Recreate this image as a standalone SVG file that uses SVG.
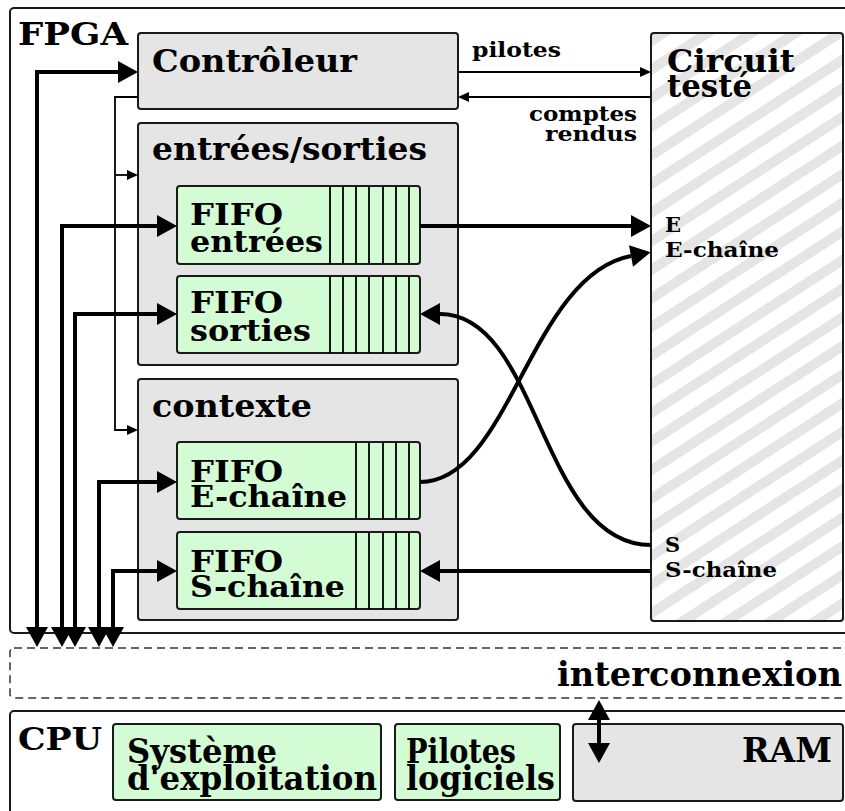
<svg xmlns="http://www.w3.org/2000/svg" width="845" height="811" viewBox="0 0 845 811">
<style>
.t{font-family:"DejaVu Serif","Liberation Serif",serif;font-weight:bold;fill:#000}
.box{stroke:#1a1a1a;stroke-width:2}
.gray{fill:#e5e5e5}
.green{fill:#d4fcd4}
.thick{fill:none;stroke:#000;stroke-width:4}
.thin{fill:none;stroke:#000;stroke-width:1.8}
.stripe{stroke:#000;stroke-width:1.8}
</style>
<defs>
<marker id="ah" markerUnits="userSpaceOnUse" markerWidth="20" markerHeight="22" viewBox="0 0 20 22" refX="0" refY="11" orient="auto-start-reverse" overflow="visible"><path d="M0,0 L20,11 L0,22 z" fill="#000"/></marker>
<marker id="as" markerUnits="userSpaceOnUse" markerWidth="11" markerHeight="10" viewBox="0 0 11 10" refX="0" refY="5" orient="auto" overflow="visible"><path d="M0,0 L11,5 L0,10 z" fill="#000"/></marker>
<pattern id="hatch" patternUnits="userSpaceOnUse" width="30" height="24" patternTransform="rotate(-33)"><rect width="30" height="24" fill="#fff"/><rect y="0" width="30" height="10" fill="#e5e5e5"/></pattern>
</defs>

<g id="fpga">
<rect class="box" x="10" y="8" width="850" height="625" rx="4" fill="#fff"/>
<text class="t" x="18" y="45" font-size="31" textLength="110" lengthAdjust="spacingAndGlyphs">FPGA</text>
</g>

<g id="interconnexion">
<rect x="10" y="648" width="850" height="50" rx="4" fill="#fff" stroke="#333" stroke-width="1.5" stroke-dasharray="8,5"/>
<text class="t" x="557" y="686" font-size="33" textLength="285" lengthAdjust="spacingAndGlyphs">interconnexion</text>
</g>

<g id="cpu">
<rect class="box" x="10" y="711" width="850" height="120" rx="4" fill="#fff"/>
<text class="t" x="18" y="750" font-size="31" textLength="84" lengthAdjust="spacingAndGlyphs">CPU</text>
</g>

<g id="controleur">
<rect class="box gray" x="138" y="33" width="320" height="76" rx="3"/>
<text class="t" x="152" y="72" font-size="32" textLength="205" lengthAdjust="spacingAndGlyphs">Contrôleur</text>
</g>

<g id="circuit">
<rect class="box" x="651" y="33" width="192" height="588" rx="3" fill="url(#hatch)"/>
<text class="t" x="667" y="72" font-size="31" textLength="128" lengthAdjust="spacingAndGlyphs">Circuit</text>
<text class="t" x="667" y="97" font-size="31" textLength="85" lengthAdjust="spacingAndGlyphs">testé</text>
<text class="t" x="665" y="232" font-size="21">E</text>
<text class="t" x="665" y="257" font-size="21" textLength="114" lengthAdjust="spacingAndGlyphs">E-chaîne</text>
<text class="t" x="665" y="552" font-size="21">S</text>
<text class="t" x="665" y="577" font-size="21" textLength="112" lengthAdjust="spacingAndGlyphs">S-chaîne</text>
</g>

<g id="es">
<rect class="box gray" x="138" y="123" width="320" height="242" rx="3"/>
<text class="t" x="152" y="160" font-size="32" textLength="275" lengthAdjust="spacingAndGlyphs">entrées/sorties</text>
</g>

<g id="fifo-entrees">
<rect class="box green" x="177" y="186" width="243" height="78" rx="3"/>
<path class="stripe" d="M330,186V264M343,186V264M356,186V264M369,186V264M383,186V264M396,186V264M409,186V264"/>
<text class="t" x="190" y="225" font-size="30" textLength="93" lengthAdjust="spacingAndGlyphs">FIFO</text>
<text class="t" x="190" y="252" font-size="30" textLength="133" lengthAdjust="spacingAndGlyphs">entrées</text>
</g>

<g id="fifo-sorties">
<rect class="box green" x="177" y="276" width="243" height="77" rx="3"/>
<path class="stripe" d="M330,276V353M343,276V353M356,276V353M369,276V353M383,276V353M396,276V353M409,276V353"/>
<text class="t" x="190" y="313" font-size="30" textLength="93" lengthAdjust="spacingAndGlyphs">FIFO</text>
<text class="t" x="190" y="341" font-size="30" textLength="121" lengthAdjust="spacingAndGlyphs">sorties</text>
</g>

<g id="contexte">
<rect class="box gray" x="138" y="379" width="320" height="241" rx="3"/>
<text class="t" x="152" y="417" font-size="32" textLength="160" lengthAdjust="spacingAndGlyphs">contexte</text>
</g>

<g id="fifo-echaine">
<rect class="box green" x="177" y="442" width="243" height="77" rx="3"/>
<path class="stripe" d="M356,442V519M369,442V519M383,442V519M396,442V519M409,442V519"/>
<text class="t" x="190" y="482" font-size="30" textLength="93" lengthAdjust="spacingAndGlyphs">FIFO</text>
<text class="t" x="190" y="507" font-size="30" textLength="157" lengthAdjust="spacingAndGlyphs">E-chaîne</text>
</g>

<g id="fifo-schaine">
<rect class="box green" x="177" y="532" width="243" height="77" rx="3"/>
<path class="stripe" d="M356,532V609M369,532V609M383,532V609M396,532V609M409,532V609"/>
<text class="t" x="190" y="572" font-size="30" textLength="93" lengthAdjust="spacingAndGlyphs">FIFO</text>
<text class="t" x="190" y="597" font-size="30" textLength="155" lengthAdjust="spacingAndGlyphs">S-chaîne</text>
</g>

<g id="systeme">
<rect class="box green" x="113" y="724" width="268" height="76" rx="3"/>
<text class="t" x="127" y="763" font-size="33" textLength="150" lengthAdjust="spacingAndGlyphs">Système</text>
<text class="t" x="127" y="790" font-size="33" textLength="250" lengthAdjust="spacingAndGlyphs">d'exploitation</text>
</g>

<g id="pilotes-logiciels">
<rect class="box green" x="395" y="724" width="165" height="76" rx="3"/>
<text class="t" x="406" y="763" font-size="33" textLength="110" lengthAdjust="spacingAndGlyphs">Pilotes</text>
<text class="t" x="406" y="790" font-size="33" textLength="149" lengthAdjust="spacingAndGlyphs">logiciels</text>
</g>

<g id="ram">
<rect class="box gray" x="573" y="724" width="270" height="77" rx="3"/>
<text class="t" x="742" y="762" font-size="34" textLength="90" lengthAdjust="spacingAndGlyphs">RAM</text>
</g>

<g id="connectors">
<path class="thin" d="M458,72H640" marker-end="url(#as)"/>
<path class="thin" d="M651,97H469" marker-end="url(#as)"/>
<text class="t" x="472" y="57" font-size="21" textLength="89" lengthAdjust="spacingAndGlyphs">pilotes</text>
<text class="t" x="637" y="121" font-size="21" text-anchor="end" textLength="108" lengthAdjust="spacingAndGlyphs">comptes</text>
<text class="t" x="637" y="141" font-size="21" text-anchor="end" textLength="92" lengthAdjust="spacingAndGlyphs">rendus</text>
<path class="thin" d="M138,97H115V430H127" marker-end="url(#as)"/>
<path class="thin" d="M115,175H127" marker-end="url(#as)"/>
<path class="thick" d="M37,627V72H118" marker-start="url(#ah)" marker-end="url(#ah)"/>
<path class="thick" d="M62,627V226H157" marker-start="url(#ah)" marker-end="url(#ah)"/>
<path class="thick" d="M75,627V314H157" marker-start="url(#ah)" marker-end="url(#ah)"/>
<path class="thick" d="M99,627V482H157" marker-start="url(#ah)" marker-end="url(#ah)"/>
<path class="thick" d="M113,627V571H157" marker-start="url(#ah)" marker-end="url(#ah)"/>
<path class="thick" d="M420,226H631" marker-end="url(#ah)"/>
<path class="thick" d="M420,482C510,482 530,275 631,256" marker-end="url(#ah)"/>
<path class="thick" d="M651,545C540,545 540,314 440,314" marker-end="url(#ah)"/>
<path class="thick" d="M651,571H440" marker-end="url(#ah)"/>
<path class="thick" d="M599,720V743" marker-start="url(#ah)" marker-end="url(#ah)"/>
</g>
</svg>
